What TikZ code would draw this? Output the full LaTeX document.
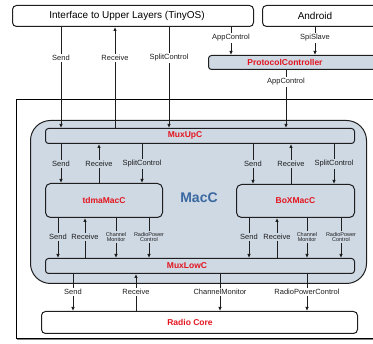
\documentclass[tikz,border=0pt]{standalone}
\usepackage{fontspec}
\setmainfont{Liberation Sans}
\usetikzlibrary{arrows.meta}
\definecolor{macfill}{HTML}{CFD9E4}
\definecolor{boxred}{HTML}{E3141E}
\definecolor{macblue}{HTML}{3A68A0}
\definecolor{edge}{HTML}{1E1E1E}
\begin{document}
\begin{tikzpicture}[x=1pt,y=-1pt,
  box/.style={draw=edge, line width=1pt, rounded corners=#1, inner sep=0pt, anchor=north west},
  lbl/.style={font=\fontsize{7.5}{8}\selectfont, inner sep=1.5pt, text=edge},
  tiny/.style={font=\fontsize{5.5}{5.8}\selectfont, align=center, inner sep=1pt, text=edge},
  redtxt/.style={text=boxred, font=\bfseries\fontsize{8.5}{10}\selectfont, inner sep=0pt},
  arr/.style={-{Latex[length=4pt,width=3.5pt]}, line width=0.9pt, draw=edge},
  ln/.style={line width=0.9pt, draw=edge}]
\useasboundingbox (0,0) rectangle (373,344);
% top boxes
\node[box=4pt, fill=white, minimum width=241pt, minimum height=21pt] (iface) at (12,5) {};
\node[font=\fontsize{10}{12}\selectfont, inner sep=0pt] (ifacetxt) at (127,15.5) {Interface to Upper Layers (TinyOS)};
\node[box=4pt, fill=white, minimum width=120pt, minimum height=21pt] (android) at (262,5) {};
\node[font=\fontsize{10}{12}\selectfont, inner sep=0pt] (androidtxt) at (315,15.5) {Android};
\node[box=3pt, fill=macfill, minimum width=175pt, minimum height=14pt] (pc) at (208,55) {};
\node[redtxt] (pctxt) at (285,62) {ProtocolController};
% outer box
\draw[gray, line width=1.3pt] (17,339.5) -- (380,339.5);
\node[draw=black, line width=0.8pt, anchor=north west, inner sep=0pt, minimum width=370pt, minimum height=239pt] (outer) at (16,99) {};
% MacC
\node[box=20pt, fill=macfill, minimum width=336pt, minimum height=163pt] (macc) at (30,120) {};
\node[text=macblue, font=\bfseries\fontsize{14}{16}\selectfont, inner sep=0pt] (macctxt) at (199,198) {MacC};
\node[box=3pt, fill=macfill, minimum width=309pt, minimum height=15pt] (muxup) at (45,128) {};
\node[redtxt] (muxuptxt) at (185,135.5) {MuxUpC};
\node[box=5pt, fill=macfill, minimum width=117pt, minimum height=34pt, text=boxred, font=\bfseries\fontsize{8.5}{10}\selectfont] (tdma) at (45,183) {tdmaMacC};
\node[box=5pt, fill=macfill, minimum width=118pt, minimum height=33pt, text=boxred, font=\bfseries\fontsize{8.5}{10}\selectfont] (boxmac) at (236,184) {BoXMacC};
\node[box=3pt, fill=macfill, minimum width=309pt, minimum height=15pt] (muxlow) at (45,258) {};
\node[redtxt] (muxlowtxt) at (187,265.5) {MuxLowC};
\node[box=4pt, fill=white, minimum width=316pt, minimum height=22pt] (radio) at (41,311) {};
\node[redtxt] (radiotxt) at (190,322) {Radio Core};

% top labels
\node[lbl] (t1) at (61,58) {Send};
\node[lbl] (t2) at (115,58) {Receive};
\node[lbl] (t3) at (169,58) {SplitControl};
\node[lbl] (a1) at (231,38) {AppControl};
\node[lbl] (a2) at (315,38) {SpiSlave};
\node[lbl] (a3) at (286,82) {AppControl};
\draw[ln] (iface.south -| t1) -- (t1); \draw[arr] (t1) -- (muxup.north -| t1);
\draw[ln] (muxup.north -| t2) -- (t2); \draw[arr] (t2) -- (iface.south -| t2);
\draw[ln] (iface.south -| t3) -- (t3); \draw[arr] (t3) -- (muxup.north -| t3);
\draw[ln] (iface.south -| a1) -- (a1); \draw[arr] (a1) -- (pc.north -| a1);
\draw[ln] (android.south -| a2) -- (a2); \draw[arr] (a2) -- (pc.north -| a2);
\draw[ln] (pc.south -| a3) -- (a3); \draw[arr] (a3) -- (muxup.north -| a3);

% middle labels
\node[lbl] (m1) at (61,164) {Send};
\node[lbl] (m2) at (99,164) {Receive};
\node[lbl] (m3) at (142,164) {SplitControl};
\node[lbl] (m4) at (253,164) {Send};
\node[lbl] (m5) at (291,164) {Receive};
\node[lbl] (m6) at (334,164) {SplitControl};
\draw[ln] (muxup.south -| m1) -- (m1); \draw[arr] (m1) -- (tdma.north -| m1);
\draw[ln] (tdma.north -| m2) -- (m2); \draw[arr] (m2) -- (muxup.south -| m2);
\draw[ln] (muxup.south -| m3) -- (m3); \draw[arr] (m3) -- (tdma.north -| m3);
\draw[ln] (muxup.south -| m4) -- (m4); \draw[arr] (m4) -- (boxmac.north -| m4);
\draw[ln] (boxmac.north -| m5) -- (m5); \draw[arr] (m5) -- (muxup.south -| m5);
\draw[ln] (muxup.south -| m6) -- (m6); \draw[arr] (m6) -- (boxmac.north -| m6);

% lower labels
\node[lbl] (l1) at (58,237) {Send};
\node[lbl] (l2) at (85,237) {Receive};
\node[tiny] (l3) at (116,237) {Channel\\Monitor};
\node[tiny] (l4) at (149,237) {RadioPower\\Control};
\node[lbl] (r1) at (249,237) {Send};
\node[lbl] (r2) at (277,237) {Receive};
\node[tiny] (r3) at (307,237) {Channel\\Monitor};
\node[tiny] (r4) at (341,237) {RadioPower\\Control};
\draw[ln] (tdma.south -| l1) -- (l1); \draw[arr] (l1) -- (muxlow.north -| l1);
\draw[ln] (muxlow.north -| l2) -- (l2); \draw[arr] (l2) -- (tdma.south -| l2);
\draw[ln] (tdma.south -| l3) -- (l3); \draw[arr] (l3) -- (muxlow.north -| l3);
\draw[ln] (tdma.south -| l4) -- (l4); \draw[arr] (l4) -- (muxlow.north -| l4);
\draw[ln] (boxmac.south -| r1) -- (r1); \draw[arr] (r1) -- (muxlow.north -| r1);
\draw[ln] (muxlow.north -| r2) -- (r2); \draw[arr] (r2) -- (boxmac.south -| r2);
\draw[ln] (boxmac.south -| r3) -- (r3); \draw[arr] (r3) -- (muxlow.north -| r3);
\draw[ln] (boxmac.south -| r4) -- (r4); \draw[arr] (r4) -- (muxlow.north -| r4);

% bottom labels
\node[lbl] (b1) at (73,292) {Send};
\node[lbl] (b2) at (136,292) {Receive};
\node[lbl] (b3) at (220,292) {ChannelMonitor};
\node[lbl] (b4) at (307,292) {RadioPowerControl};
\draw[ln] (muxlow.south -| b1) -- (b1); \draw[arr] (b1) -- (radio.north -| b1);
\draw[ln] (radio.north -| b2) -- (b2); \draw[arr] (b2) -- (muxlow.south -| b2);
\draw[ln] (muxlow.south -| b3) -- (b3); \draw[arr] (b3) -- (radio.north -| b3);
\draw[ln] (muxlow.south -| b4) -- (b4); \draw[arr] (b4) -- (radio.north -| b4);
\end{tikzpicture}
\end{document}
